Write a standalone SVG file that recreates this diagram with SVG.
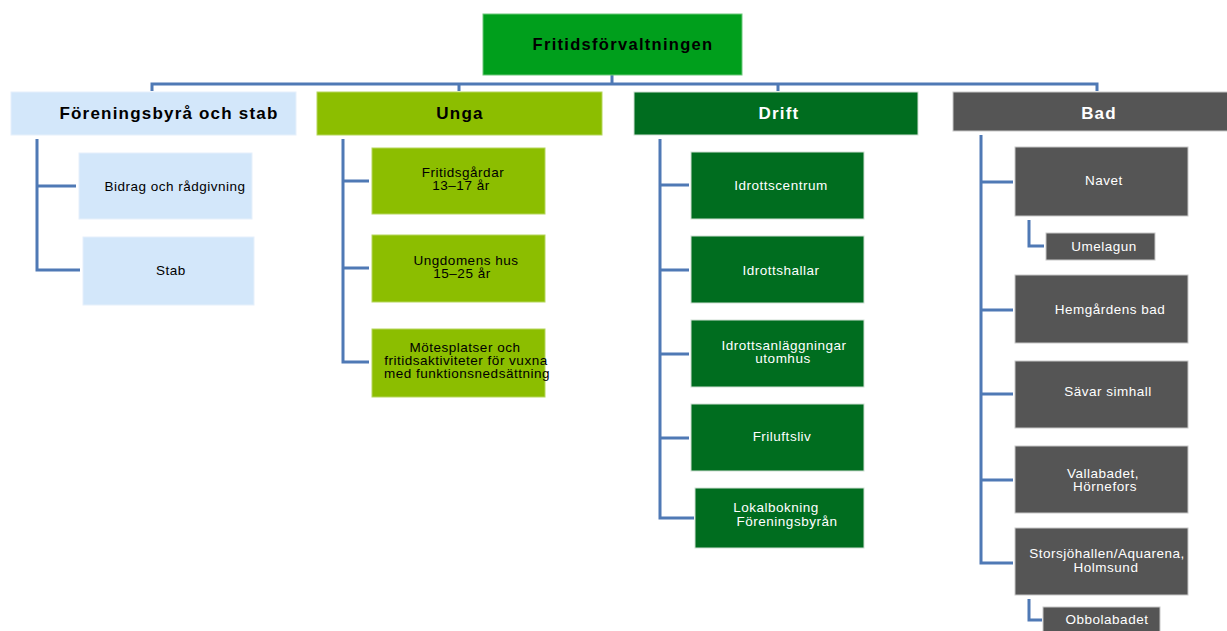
<svg xmlns="http://www.w3.org/2000/svg" width="1227" height="631" viewBox="0 0 1227 631">
<style>
text{font-family:"Liberation Sans",Arial,sans-serif;text-anchor:middle}
.t1{font-size:17px;font-weight:bold;letter-spacing:1.2px}
.t0{font-size:16.5px;font-weight:bold;letter-spacing:1.3px}
.c{font-size:13.5px;letter-spacing:0.5px}
.w{fill:#ffffff}
.k{fill:#000000}
.lb{fill:#d3e7fa;stroke:#e6f0fb;stroke-width:1}
.lg{fill:#8cbe00;stroke:#b5d65c;stroke-width:1}
.dg{fill:#006d1f;stroke:#cfe0d3;stroke-width:1}
.gr{fill:#555555;stroke:#c8c8c8;stroke-width:1}
.con{fill:none;stroke:#4f79b5;stroke-width:3}
</style>
<rect width="1227" height="631" fill="#ffffff"/>
<g id="connectors">
<path class="con" d="M612 75V84M152 91V84H1097V91M459 84V91M778 84V91"/>
<path class="con" d="M37 139V270H80M37 186H76"/>
<path class="con" d="M343 139V362H369M343 181H369M343 268H369"/>
<path class="con" d="M660 139V518H694M660 185H689M660 270H689M660 354H689M660 438H689"/>
<path class="con" d="M981 135V563H1013M981 182H1013M981 310H1013M981 394H1013M981 480H1013"/>
<path class="con" d="M1029 220V246H1044"/>
<path class="con" d="M1029 599V620H1042"/>
</g>
<g id="root"><rect x="483" y="14" width="259" height="61" fill="#009f1c" stroke="#6cc77a"/><text class="t0 k" x="623" y="50">Fritidsförvaltningen</text></g>
<g id="foreningsbyra"><rect class="lb" x="11" y="92" width="285" height="43"/><text class="t1 k" x="169" y="119">Föreningsbyrå och stab</text></g>
<g id="unga"><rect class="lg" x="317" y="92" width="285" height="43"/><text class="t1 k" x="460" y="119">Unga</text></g>
<g id="drift"><rect class="dg" x="634" y="92" width="284" height="43"/><text class="t1 w" x="779" y="119">Drift</text></g>
<g id="bad"><rect class="gr" x="953" y="92" width="280" height="39"/><text class="t1 w" x="1099" y="119">Bad</text></g>

<g id="bidrag"><rect class="lb" x="79" y="153" width="173" height="66"/><text class="c k" x="175" y="191">Bidrag och rådgivning</text></g>
<g id="stab"><rect class="lb" x="83" y="237" width="171" height="68"/><text class="c k" x="171" y="275">Stab</text></g>

<g id="fritidsgardar"><rect class="lg" x="372" y="148" width="173" height="66"/><text class="c k" x="463" y="177">Fritidsgårdar</text><text class="c k" x="461" y="190">13–17 år</text></g>
<g id="ungdomens"><rect class="lg" x="372" y="235" width="173" height="67"/><text class="c k" x="466" y="265">Ungdomens hus</text><text class="c k" x="462" y="278">15–25 år</text></g>
<g id="motesplatser"><rect class="lg" x="372" y="329" width="173" height="68"/><text class="c k" x="465" y="352">Mötesplatser och</text><text class="c k" x="466" y="365">fritidsaktiviteter för vuxna</text><text class="c k" x="467" y="378">med funktionsnedsättning</text></g>

<g id="idrottscentrum"><rect class="dg" x="691" y="152" width="173" height="67"/><text class="c w" x="781" y="190">Idrottscentrum</text></g>
<g id="idrottshallar"><rect class="dg" x="691" y="236" width="173" height="67"/><text class="c w" x="781" y="275">Idrottshallar</text></g>
<g id="idrottsanlaggningar"><rect class="dg" x="691" y="320" width="173" height="67"/><text class="c w" x="784" y="350">Idrottsanläggningar</text><text class="c w" x="783" y="363">utomhus</text></g>
<g id="friluftsliv"><rect class="dg" x="691" y="404" width="173" height="67"/><text class="c w" x="782" y="441">Friluftsliv</text></g>
<g id="lokalbokning"><rect class="dg" x="695" y="488" width="169" height="60"/><text class="c w" x="776" y="512">Lokalbokning</text><text class="c w" x="787" y="526">Föreningsbyrån</text></g>

<g id="navet"><rect class="gr" x="1015" y="147" width="173" height="69"/><text class="c w" x="1104" y="185">Navet</text></g>
<g id="umelagun"><rect class="gr" x="1046" y="233" width="109" height="27"/><text class="c w" x="1104" y="251">Umelagun</text></g>
<g id="hemgardens"><rect class="gr" x="1015" y="275" width="173" height="68"/><text class="c w" x="1110" y="314">Hemgårdens bad</text></g>
<g id="savar"><rect class="gr" x="1015" y="361" width="173" height="67"/><text class="c w" x="1108" y="396">Sävar simhall</text></g>
<g id="vallabadet"><rect class="gr" x="1015" y="446" width="173" height="67"/><text class="c w" x="1103" y="478">Vallabadet,</text><text class="c w" x="1105" y="491">Hörnefors</text></g>
<g id="storsjohallen"><rect class="gr" x="1015" y="528" width="173" height="67"/><text class="c w" x="1107" y="558">Storsjöhallen/Aquarena,</text><text class="c w" x="1106" y="572">Holmsund</text></g>
<g id="obbolabadet"><rect class="gr" x="1043" y="607" width="117" height="30"/><text class="c w" x="1107" y="624">Obbolabadet</text></g>
</svg>
